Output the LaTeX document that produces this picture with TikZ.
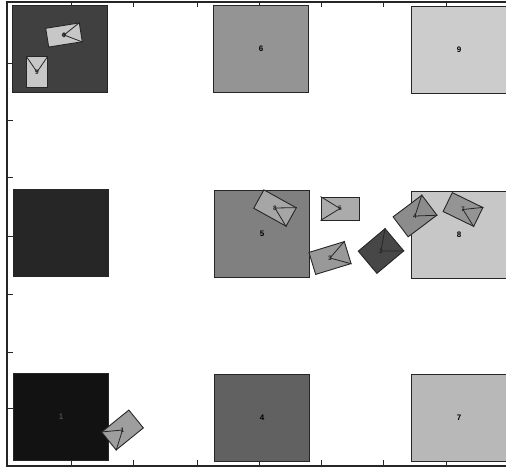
\documentclass[tikz,border=0pt]{standalone}
\usepackage{fontspec}
\setmainfont{Liberation Sans}
\begin{document}
\begin{tikzpicture}[x=1pt,y=-1pt,
  cell/.style={draw=black!85, line width=0.9pt, minimum width=95pt, minimum height=87pt, inner sep=0pt, font=\fontsize{8}{8}\selectfont\bfseries},
  robot/.style={draw=black!85, line width=0.9pt, minimum width=36pt, minimum height=22pt, inner sep=0pt},
  rlabel/.style={font=\fontsize{6.5}{6.5}\selectfont\bfseries, text=black!85, inner sep=0pt},
  heading/.style={draw=black!85, line width=0.8pt},
  axisline/.style={line width=1.3pt, black!85},
  tick/.style={line width=0.9pt, black!85}]
\useasboundingbox (0,0) rectangle (506,467);
% axis frame
\coordinate (o1) at (7,2); \coordinate (o2) at (506,2);
\coordinate (o3) at (7,466); \coordinate (o4) at (506,466);
\draw[axisline] (o2) -- (o1) -- (o3) -- (o4);
\foreach \x in {71,133,197,259,321,383,446} {
  \draw[tick] (\x,466) -- (\x,460);
  \draw[tick] (\x,2) -- (\x,7);
}
\foreach \y in {63,120,177,236,294,352,408} {
  \draw[tick] (7,\y) -- (13,\y);
}
% cells
\node[cell, fill=black!75] (c3) at (60,49) {};
\node[cell, fill=black!42] (c6) at (261,49) {6};
\node[cell, fill=black!20] (c9) at (459,50) {9};
\node[cell, fill=black!85] (c2) at (61,233) {};
\node[cell, fill=black!50] (c5) at (262,233.5) {5};
\node[cell, fill=black!22] (c8) at (459,234.5) {8};
\node[cell, fill=black!93, text=black!70] (c1) at (61,417) {1};
\node[cell, fill=black!62] (c4) at (262,417.5) {4};
\node[cell, fill=black!28] (c7) at (459,417.5) {7};
% robots
\node[robot, fill=black!22, rotate=9, minimum width=34pt, minimum height=19pt] (rA) at (64,35) {};
\node[robot, fill=black!22, rotate=90, minimum width=31pt, minimum height=21pt] (rB) at (37,72) {};
\node[robot, fill=black!35, rotate=-29, minimum width=37pt, minimum height=21pt] (rC) at (275,208) {};
\node[robot, fill=black!33, rotate=180, minimum width=38pt, minimum height=23pt] (rD) at (340,208.5) {};
\node[robot, fill=black!40, rotate=17, minimum width=37pt, minimum height=23pt] (rE) at (330,258) {};
\node[robot, fill=black!72, rotate=40, minimum width=35pt, minimum height=29pt] (rF) at (381,251) {};
\node[robot, fill=black!45, rotate=37, minimum width=36pt, minimum height=25pt] (rG) at (415,216) {};
\node[robot, fill=black!42, rotate=-26, minimum width=34pt, minimum height=21pt] (rH) at (463,209.5) {};
\node[robot, fill=black!38, rotate=219, minimum width=35pt, minimum height=23pt] (rI) at (122.5,430) {};
% headings
\foreach \r in {rA,rB,rC,rD,rE,rF,rG,rH,rI} {
  \draw[heading] (\r.north east) -- (\r.center) -- (\r.south east);
}
\draw[heading] (rA.center) circle (1.8pt);
% robot labels
\node[rlabel] at (rA.center) {6};
\node[rlabel] at (rB.center) {9};
\node[rlabel] at (rC.center) {8};
\node[rlabel] at (rD.center) {5};
\node[rlabel] at (rE.center) {3};
\node[rlabel] at (rF.center) {2};
\node[rlabel] at (rG.center) {4};
\node[rlabel] at (rH.center) {7};
\node[rlabel] at (rI.center) {1};
\end{tikzpicture}
\end{document}
